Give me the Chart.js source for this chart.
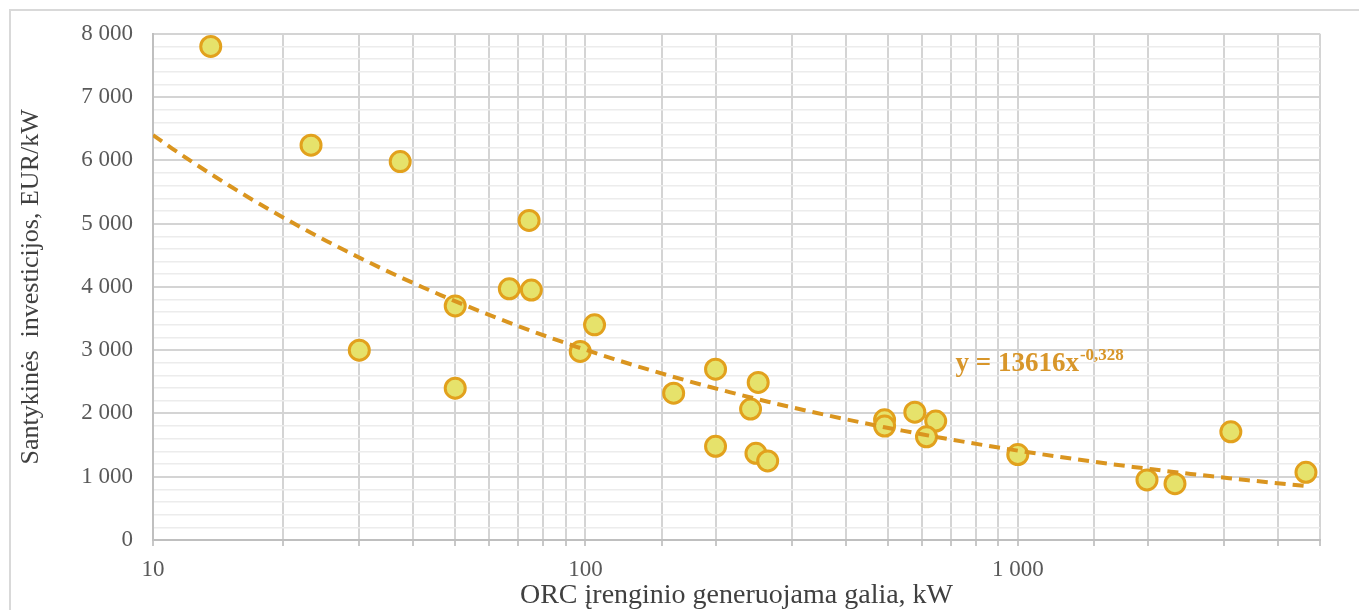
<!DOCTYPE html>
<html>
<head>
<meta charset="utf-8">
<script src="https://cdn.jsdelivr.net/npm/chart.js@4.4.1/dist/chart.umd.min.js"></script>
<style>
    html, body { margin: 0; padding: 0; background: #fff; }
    #wrap { position: relative; width: 1359px; height: 610px; }
</style>
</head>
<body>
<div id="wrap"><canvas id="orc-chart"></canvas></div>
<script>
// ORC unit power, kW
const powerKW = [13.6, 23.2, 37.3, 30, 50, 50, 66.7, 74.1, 75, 97.3, 105, 160, 200, 200,
    241, 251, 248, 264, 492, 492, 578, 646, 615, 1000, 1990, 2310, 3110, 4640];
// specific investment, EUR/kW
const investEUR = [7800, 6240, 5980, 3000, 3700, 2400, 3970, 5050, 3950, 2980, 3400, 2320, 2700, 1480,
    2070, 2490, 1370, 1250, 1900, 1800, 2020, 1880, 1630, 1350, 950, 890, 1710, 1070];

// power trendline shown on the chart: y = 13616 x^-0,328
const TREND_COEF = 13616;
const TREND_EXP = -0.328;
const TREND_LABEL = 'y = 13616x';
const TREND_LABEL_EXP = '-0,328';
const TREND_LABEL_AT = [718, 2780];

const xTickLabels = [10, 100, 1000];
const yTickLabels = [0, 1000, 2000, 3000, 4000, 5000, 6000, 7000, 8000];

const X_TITLE = 'ORC įrenginio generuojama galia, kW';
const Y_TITLE = 'Santykinės  investicijos, EUR/kW';

const fmt = v => String(v).replace(/\B(?=(\d{3})+(?!\d))/g, ' ');

// curve through the fitted equation across the data range
const trendPts = [];
const xMin = 10, xMax = Math.max(...powerKW);
for (let i = 0; i <= 60; i++) {
    const x = xMin * Math.pow(xMax / xMin, i / 60);
    trendPts.push({ x: x, y: TREND_COEF * Math.pow(x, TREND_EXP) });
}

const framePlugin = {
    id: 'frame',
    beforeDraw(chart) {
        const ctx = chart.ctx;
        ctx.save();
        ctx.strokeStyle = '#d9d9d9';
        ctx.lineWidth = 2;
        ctx.beginPath();
        ctx.moveTo(10, chart.height);
        ctx.lineTo(10, 10);
        ctx.lineTo(chart.width, 10);
        ctx.stroke();
        ctx.restore();
    }
};

const eqPlugin = {
    id: 'eqLabel',
    afterDatasetsDraw(chart) {
        const ctx = chart.ctx;
        const x = chart.scales.x.getPixelForValue(TREND_LABEL_AT[0]);
        const y = chart.scales.y.getPixelForValue(TREND_LABEL_AT[1]);
        ctx.save();
        ctx.fillStyle = '#d8962a';
        ctx.textBaseline = 'middle';
        ctx.textAlign = 'left';
        ctx.font = 'bold 27px "Liberation Serif"';
        ctx.fillText(TREND_LABEL, x, y);
        const w = ctx.measureText(TREND_LABEL).width;
        ctx.font = 'bold 17px "Liberation Serif"';
        ctx.fillText(TREND_LABEL_EXP, x + w + 1, y - 8);
        ctx.restore();
    }
};

new Chart(document.getElementById('orc-chart'), {
    type: 'scatter',
    data: {
        datasets: [{
            label: 'trend',
            data: trendPts,
            showLine: true,
            borderColor: '#da951f',
            borderWidth: 4,
            borderDash: [11, 7],
            pointRadius: 0,
            fill: false,
            order: 0
        }, {
            label: 'ORC',
            data: powerKW.map((p, i) => ({ x: p, y: investEUR[i] })),
            backgroundColor: '#e6e26b',
            borderColor: '#e2a11d',
            borderWidth: 3,
            pointRadius: 10,
            pointHoverRadius: 10,
            order: 1
        }]
    },
    options: {
        responsive: true,
        maintainAspectRatio: false,
        animation: false,
        events: [],
        layout: { padding: { left: 10, top: 33, right: 39, bottom: 0 } },
        plugins: {
            legend: { display: false },
            tooltip: { enabled: false }
        },
        scales: {
            x: {
                type: 'logarithmic',
                min: 10,
                max: 5000,
                afterFit: s => { s.height = 70; },
                border: { color: '#bfbfbf', width: 2 },
                grid: { color: '#d4d4d4', lineWidth: 2, tickLength: 6, tickColor: '#c8c8c8' },
                ticks: {
                    autoSkip: false,
                    maxRotation: 0,
                    padding: 10,
                    color: '#595959',
                    font: { family: 'Liberation Serif', size: 23 },
                    callback: v => xTickLabels.includes(v) ? fmt(v) : ''
                },
                title: {
                    display: true,
                    text: X_TITLE,
                    color: '#404040',
                    padding: { top: 0, bottom: 0 },
                    font: { family: 'Liberation Serif', size: 28, lineHeight: 1 }
                }
            },
            y: {
                min: 0,
                max: 8000,
                afterFit: s => { s.width = 143; },
                border: { color: '#bfbfbf', width: 2 },
                grid: {
                    drawTicks: false,
                    color: c => c.tick.value % 1000 === 0 ? '#d4d4d4' : '#ececec',
                    lineWidth: c => c.tick.value % 1000 === 0 ? 2 : 1.5
                },
                ticks: {
                    stepSize: 200,
                    autoSkip: false,
                    padding: 20,
                    color: '#595959',
                    font: { family: 'Liberation Serif', size: 23 },
                    callback: v => yTickLabels.includes(v) ? fmt(v) : ''
                },
                title: {
                    display: true,
                    text: Y_TITLE,
                    color: '#404040',
                    padding: { top: 8, bottom: 0 },
                    font: { family: 'Liberation Serif', size: 26, lineHeight: 1 }
                }
            }
        }
    },
    plugins: [framePlugin, eqPlugin]
});
</script>
</body>
</html>
